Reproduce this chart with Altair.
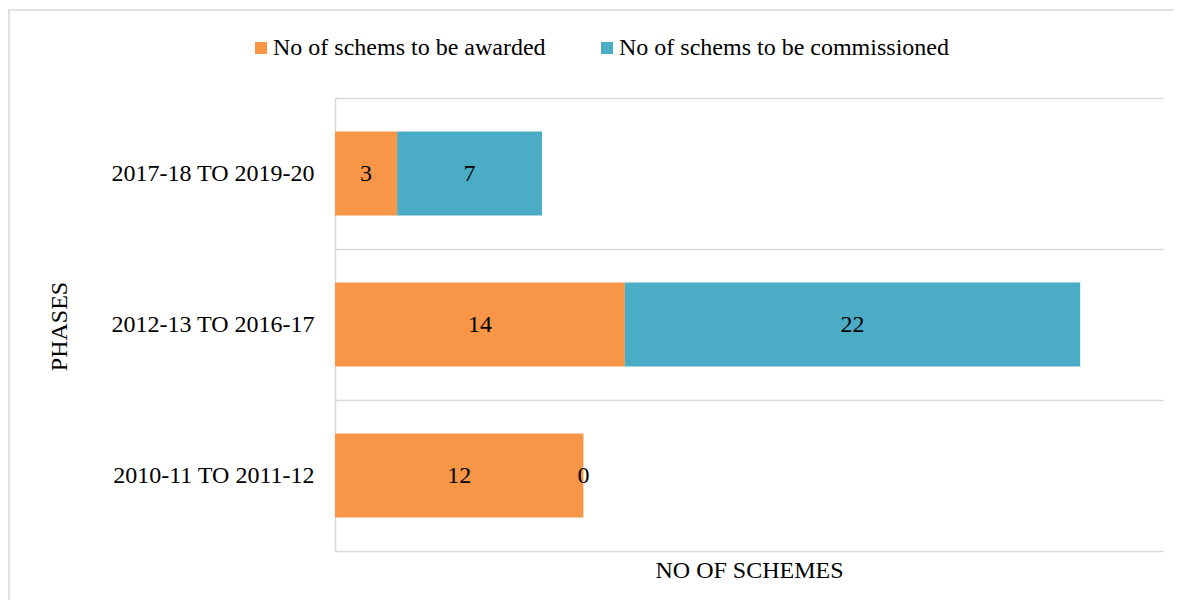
import altair as alt
import pandas as pd

phases = ["2017-18 TO 2019-20", "2012-13 TO 2016-17", "2010-11 TO 2011-12"]
awarded = [3, 14, 12]
commissioned = [7, 22, 0]
series = ["No of schems to be awarded", "No of schems to be commissioned"]
colors = ["#F79646", "#4BACC6"]

rows = []
for p, a, c in zip(phases, awarded, commissioned):
    rows.append({"phase": p, "series": series[0], "value": a, "order": 0})
    rows.append({"phase": p, "series": series[1], "value": c, "order": 1})
df = pd.DataFrame(rows)

FONT = "Liberation Serif"
W, H = 828, 453

base = alt.Chart(df).transform_stack(
    stack="value", groupby=["phase"], as_=["x0", "x1"],
    sort=[alt.SortField("order", order="ascending")]
).transform_calculate(mid="(datum.x0 + datum.x1) / 2")

yscale = alt.Scale(paddingInner=0, paddingOuter=0)
yenc = alt.Y(
    "phase:N", sort=phases, scale=yscale,
    axis=alt.Axis(
        title="PHASES", grid=True, tickBand="extent", ticks=False, tickSize=0,
        domainColor="#d9d9d9", domainWidth=1.5, gridColor="#d9d9d9", gridWidth=1.5,
        labelFont=FONT, labelFontSize=24, labelColor="#000000", labelPadding=21,
        labelLimit=500,
        titleFont=FONT, titleFontSize=24, titleFontWeight="normal", titleColor="#000000",
        titleAngle=-90, titleX=-276, titleY=228, titleAlign="center", titleBaseline="middle",
    ),
)
xscale = alt.Scale(domain=[0, 40], nice=False, zero=True)

bars = base.mark_bar(height=alt.RelativeBandSize(band=0.555)).encode(
    y=yenc,
    x=alt.X("x0:Q", scale=xscale, axis=alt.Axis(
        labels=False, ticks=False, grid=False, domain=False, title="NO OF SCHEMES",
        titleFont=FONT, titleFontSize=24, titleFontWeight="normal", titleColor="#000000",
        titlePadding=7)),
    x2="x1:Q",
    color=alt.Color("series:N", sort=series,
                    scale=alt.Scale(domain=series, range=colors),
                    legend=alt.Legend(
                        title=None, orient="none", direction="horizontal",
                        legendX=-86, legendY=-62,
                        symbolType="square", symbolSize=144, symbolStrokeWidth=0,
                        labelFont=FONT, labelFontSize=24, labelColor="#000000",
                        labelOffset=0, columnPadding=49, labelLimit=500)),
)

labels = base.mark_text(font=FONT, fontSize=24, color="#000000", baseline="middle").encode(
    y=alt.Y("phase:N", sort=phases, scale=yscale),
    x=alt.X("mid:Q", scale=xscale),
    text=alt.Text("value:Q"),
)

border = alt.Chart(pd.DataFrame({"k": [0]})).mark_rect(
    fill="transparent", stroke="#d9d9d9", strokeWidth=1.5
).encode(
    x=alt.value(-326), x2=alt.value(W + 60),
    y=alt.value(-88), y2=alt.value(H + 80),
)

chart = alt.layer(border, bars, labels).properties(
    width=W, height=H,
    background="white",
    autosize=alt.AutoSizeParams(type="none"),
    padding={"left": 327, "top": 90, "right": 11, "bottom": 49},
).configure_view(strokeWidth=0, stroke="transparent")

chart.save("out.html", embed_options={"renderer": "svg", "actions": False})
